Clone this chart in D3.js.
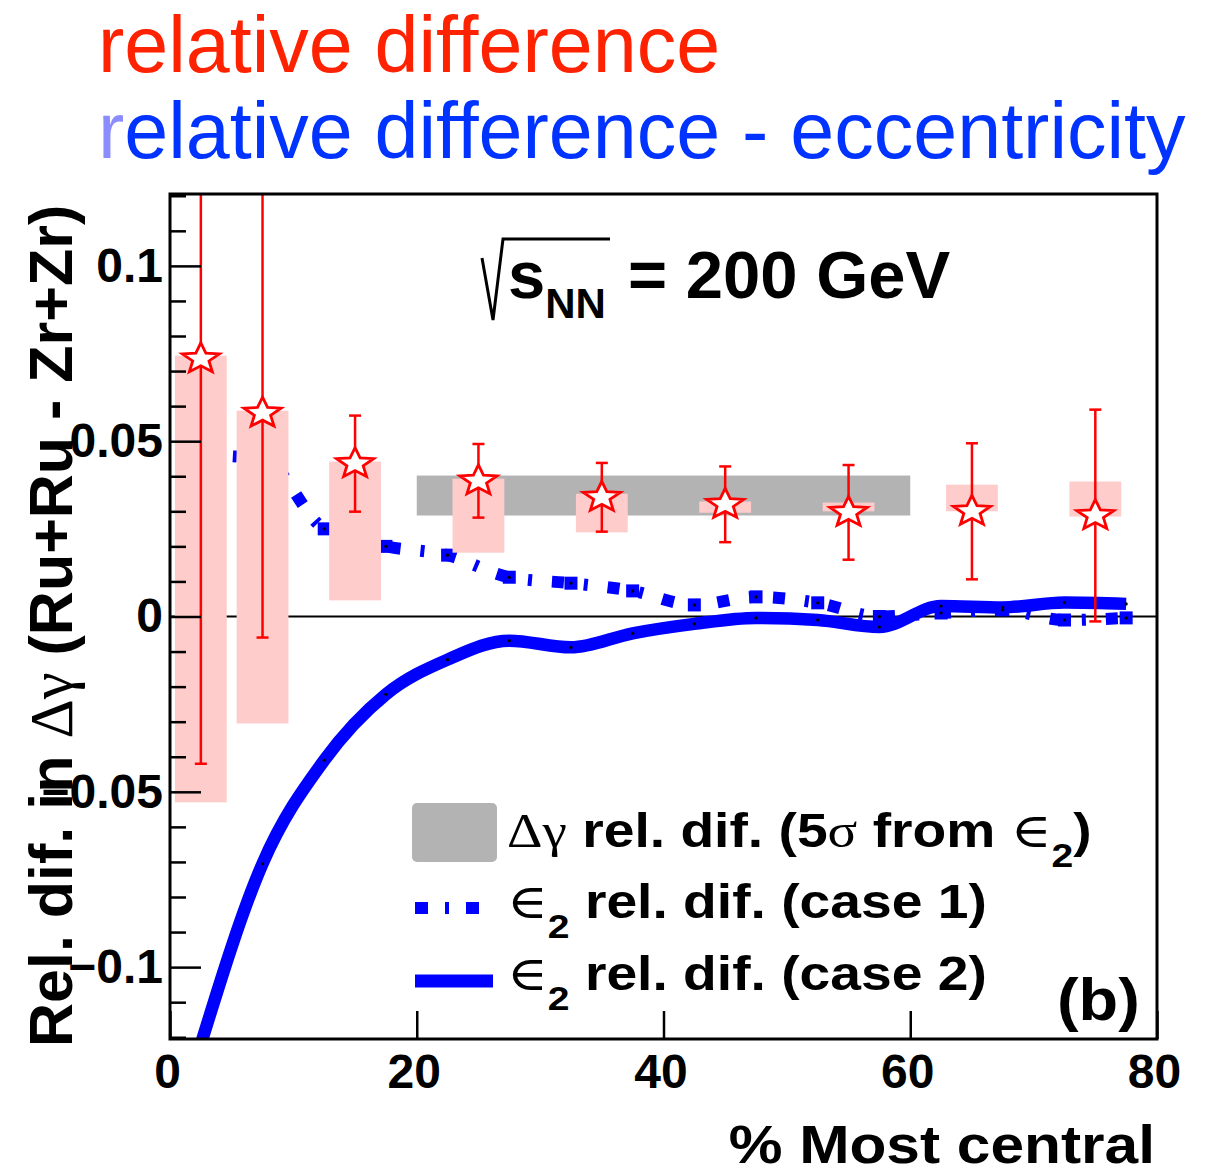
<!DOCTYPE html>
<html>
<head>
<meta charset="utf-8">
<script src="https://cdn.jsdelivr.net/npm/d3@7"></script>
<style>
  body { margin: 0; background: #fff; }
  svg { display: block; font-family: "Liberation Sans", Arial, sans-serif; }
</style>
</head>
<body>
<div id="chart"></div>
<script>
// Delta-gamma relative difference, isobar ratio (Ru+Ru - Zr+Zr)
const centrality = [2.5, 7.5, 15, 25, 35, 45, 55, 65, 75];
const dgRel = [0.0735, 0.058, 0.0436, 0.0387, 0.034, 0.032, 0.0297, 0.030, 0.0288];
const dgStat = [0.1155, 0.064, 0.0137, 0.0105, 0.0098, 0.0108, 0.0135, 0.0194, 0.0302];
const dgSysLo = [-0.053, -0.0305, 0.0046, 0.0182, 0.024, 0.0296, 0.030, 0.030, 0.0285];
const dgSysHi = [0.0744, 0.0587, 0.0442, 0.0393, 0.035, 0.0328, 0.0325, 0.0376, 0.0385];

// 5 sigma band from eps2
const bandX = [20, 60];
const bandY = [0.0288, 0.0402];

// eccentricity relative difference
const eccX = [2.5, 7.5, 12.5, 17.5, 22.5, 27.5, 32.5, 37.5, 42.5, 47.5, 52.5, 57.5, 62.5, 67.5, 72.5, 77.5];
const eccCase1 = [0.046, 0.045, 0.025, 0.020, 0.0175, 0.0112, 0.0095, 0.0073, 0.0033, 0.0056, 0.0039, 0.0, 0.001, 0.0019, -0.001, -0.0004];
const eccCase2 = [-0.122, -0.0705, -0.041, -0.0222, -0.0123, -0.0069, -0.0088, -0.0048, -0.0021, -0.0004, -0.001, -0.003, 0.003, 0.0026, 0.004, 0.0036];

// axes
const xTicks = [0, 20, 40, 60, 80];
const yTicks = [-0.1, -0.05, 0, 0.05, 0.1];
const yTickLabels = ['\u22120.1', '\u22120.05', '0', '0.05', '0.1'];

const W = 1229, H = 1176;
const P = { left: 170, right: 1157, top: 194, bottom: 1039 };
const RED = '#ff0000', BLUE = '#0000ff';

const svg = d3.select('#chart').append('svg')
    .attr('width', W)
    .attr('height', H);

const x = d3.scaleLinear().domain([0, 80]).range([P.left, P.right]);
const y = d3.scaleLinear().domain([-0.1205, 0.1205]).range([P.bottom, P.top]);

svg.append('clipPath').attr('id', 'plotClip')
  .append('rect')
    .attr('x', P.left).attr('y', P.top)
    .attr('width', P.right - P.left).attr('height', P.bottom - P.top);

const g = svg.append('g').attr('clip-path', 'url(#plotClip)');

// zero line
g.append('line')
    .attr('x1', x(0)).attr('x2', x(80))
    .attr('y1', y(0)).attr('y2', y(0))
    .attr('stroke', '#000').attr('stroke-width', 2);

const line = d3.line()
    .x(d => x(d[0]))
    .y(d => y(d[1]))
    .curve(d3.curveMonotoneX);

const case1 = eccX.map((v, i) => [v, eccCase1[i]]);
const case2 = eccX.map((v, i) => [v, eccCase2[i]]);

// case 2: solid
g.append('path')
    .datum(case2)
    .attr('d', line)
    .attr('fill', 'none')
    .attr('stroke', BLUE)
    .attr('stroke-width', 12.5);

// case 1: dash-dot plus square markers
g.append('path')
    .datum(case1)
    .attr('d', line)
    .attr('fill', 'none')
    .attr('stroke', BLUE)
    .attr('stroke-width', 12)
    .attr('stroke-dasharray', '12,20,4,20');

g.selectAll('rect.m1')
    .data(case1)
    .enter().append('rect')
    .attr('class', 'm1')
    .attr('x', d => x(d[0]) - 6.5)
    .attr('y', d => y(d[1]) - 6.5)
    .attr('width', 13).attr('height', 13)
    .attr('fill', BLUE);

g.selectAll('circle.dot')
    .data(case1.concat(case2))
    .enter().append('circle')
    .attr('class', 'dot')
    .attr('cx', d => x(d[0]))
    .attr('cy', d => y(d[1]))
    .attr('r', 1.6)
    .attr('fill', '#000');

// grey band
g.append('rect')
    .attr('x', x(bandX[0])).attr('width', x(bandX[1]) - x(bandX[0]))
    .attr('y', y(bandY[1])).attr('height', y(bandY[0]) - y(bandY[1]))
    .attr('fill', '#b3b3b3');

// systematic boxes
const sysHalf = 2.1;
g.selectAll('rect.sys')
    .data(centrality)
    .enter().append('rect')
    .attr('class', 'sys')
    .attr('x', d => x(d - sysHalf))
    .attr('width', d => x(d + sysHalf) - x(d - sysHalf))
    .attr('y', (d, i) => y(dgSysHi[i]))
    .attr('height', (d, i) => y(dgSysLo[i]) - y(dgSysHi[i]))
    .attr('fill', '#ffcccc');

// stat error bars
const eb = g.selectAll('g.eb')
    .data(centrality)
    .enter().append('g')
    .attr('class', 'eb')
    .attr('stroke', RED)
    .attr('stroke-width', 2.5);

eb.append('line')
    .attr('x1', d => x(d)).attr('x2', d => x(d))
    .attr('y1', (d, i) => y(dgRel[i] + dgStat[i]))
    .attr('y2', (d, i) => y(dgRel[i] - dgStat[i]));

[1, -1].forEach(s => {
    eb.append('line')
        .attr('x1', d => x(d) - 6).attr('x2', d => x(d) + 6)
        .attr('y1', (d, i) => y(dgRel[i] + s * dgStat[i]))
        .attr('y2', (d, i) => y(dgRel[i] + s * dgStat[i]));
});

// open stars
function starPath(ro, ri, sx) {
    const pts = [];
    for (let i = 0; i < 10; i++) {
        const r = i % 2 ? ri : ro;
        const a = -Math.PI / 2 + i * Math.PI / 5;
        pts.push([(sx * r * Math.cos(a)).toFixed(2), (r * Math.sin(a)).toFixed(2)]);
    }
    return 'M' + pts.join('L') + 'Z';
}

g.selectAll('path.star')
    .data(centrality)
    .enter().append('path')
    .attr('class', 'star')
    .attr('d', starPath(16, 7, 1.22))
    .attr('transform', (d, i) => `translate(${x(d)},${y(dgRel[i])})`)
    .attr('fill', '#fff')
    .attr('stroke', RED)
    .attr('stroke-width', 2.8)
    .attr('stroke-linejoin', 'miter');

// frame
svg.append('rect')
    .attr('x', P.left).attr('y', P.top)
    .attr('width', P.right - P.left).attr('height', P.bottom - P.top)
    .attr('fill', 'none')
    .attr('stroke', '#000')
    .attr('stroke-width', 3);

// axes
const yAxis = svg.append('g')
    .attr('transform', `translate(${P.left},0)`)
    .call(d3.axisLeft(y).tickValues(yTicks).tickSize(-31).tickPadding(7)
        .tickFormat((d, i) => yTickLabels[i]));

const yMinor = svg.append('g')
    .attr('transform', `translate(${P.left},0)`)
    .call(d3.axisLeft(y)
        .tickValues(d3.range(-12, 13).filter(k => k % 5 !== 0).map(k => k / 100))
        .tickSize(-16).tickFormat(''));

const xAxis = svg.append('g')
    .attr('transform', `translate(0,${P.bottom})`)
    .call(d3.axisBottom(x).tickValues(xTicks).tickSize(-28).tickPadding(15));

[yAxis, yMinor, xAxis].forEach(a => {
    a.select('.domain').remove();
    a.selectAll('.tick line').attr('stroke', '#000').attr('stroke-width', 2.5);
    a.selectAll('.tick text')
        .attr('fill', '#000')
        .attr('font-family', '"Liberation Sans", Arial, sans-serif')
        .attr('font-weight', 'bold')
        .attr('font-size', 48);
});
xAxis.selectAll('.tick text').attr('dx', -3);

// text helper: one <text>, several styled runs, optional horizontal stretch
const GREEK = '"Liberation Serif", "DejaVu Serif", serif';
function richText(px, py, size, sx, runs, opts = {}) {
    const t = svg.append('text')
        .attr('transform', `translate(${px},${py}) ${opts.rotate ? 'rotate(-90)' : ''} scale(${sx},1)`)
        .attr('font-size', size)
        .attr('font-weight', 'bold')
        .attr('fill', opts.fill || '#000')
        .attr('text-anchor', opts.anchor || 'start');
    runs.forEach(r => {
        const s = t.append('tspan').text(r.t);
        if (r.greek) s.attr('font-family', GREEK).attr('font-weight', 'normal');
        if (r.size) s.attr('font-size', r.size);
        if (r.dy) s.attr('dy', r.dy);
        if (r.fill) s.attr('fill', r.fill);
        if (r.normal) s.attr('font-weight', 'normal');
    });
    return t;
}

// headings
richText(98, 72, 79, 1, [{ t: 'relative difference', normal: true }], { fill: '#ff2200' });
richText(98, 158, 79, 1, [
    { t: 'r', normal: true, fill: '#8a8cff' },
    { t: 'elative difference - eccentricity', normal: true, fill: '#0033ff' }
]);

// y title
richText(72, 1047, 61, 1, [
    { t: 'Rel. dif. in ' },
    { t: '\u0394\u03b3', greek: true },
    { t: ' (Ru+Ru - Zr+Zr)' }
], { rotate: true });

// x title
richText(1155, 1163, 53, 1.14, [{ t: '% Most central' }], { anchor: 'end' });

// sqrt(s_NN) = 200 GeV
svg.append('path')
    .attr('d', 'M482,258 L493,320 L503,239 L610,239')
    .attr('fill', 'none')
    .attr('stroke', '#000')
    .attr('stroke-width', 3);
richText(508, 298, 67, 1, [{ t: 's' }, { t: 'NN', size: 42, dy: 20 }]);
richText(628, 298, 67, 1, [{ t: '= 200 GeV' }]);

// (b)
richText(1057, 1020, 60, 1.08, [{ t: '(b)' }]);

// legend
const LX = 507, LS = 1.15, LF = 48;
svg.append('rect')
    .attr('x', 412).attr('y', 803).attr('width', 85).attr('height', 59)
    .attr('rx', 5)
    .attr('fill', '#b3b3b3');
richText(LX, 847, LF, LS, [
    { t: '\u0394\u03b3', greek: true },
    { t: ' rel. dif. (5' },
    { t: '\u03c3', greek: true },
    { t: ' from ' },
    { t: '\u2208', greek: true },
    { t: '2', size: 34, dy: 20 },
    { t: ')', dy: -20 }
]);

svg.append('line')
    .attr('x1', 415).attr('x2', 482).attr('y1', 908).attr('y2', 908)
    .attr('stroke', BLUE).attr('stroke-width', 12)
    .attr('stroke-dasharray', '13,17,4,17');
richText(LX, 918, LF, LS, [
    { t: '\u2208', greek: true },
    { t: '2', size: 34, dy: 20 },
    { t: ' rel. dif. (case 1)', dy: -20 }
]);

svg.append('line')
    .attr('x1', 415).attr('x2', 493).attr('y1', 981).attr('y2', 981)
    .attr('stroke', BLUE).attr('stroke-width', 13);
richText(LX, 990, LF, LS, [
    { t: '\u2208', greek: true },
    { t: '2', size: 34, dy: 20 },
    { t: ' rel. dif. (case 2)', dy: -20 }
]);
</script>
</body>
</html>
